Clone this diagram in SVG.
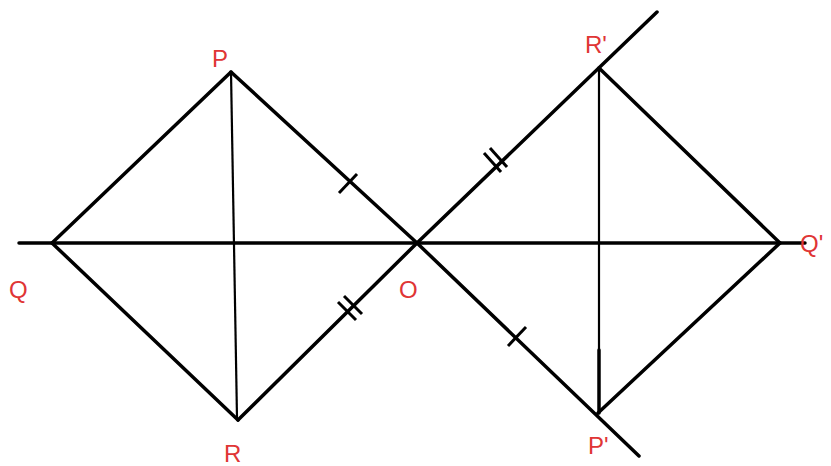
<svg xmlns="http://www.w3.org/2000/svg" width="831" height="466" viewBox="0 0 831 466">
<style>
.ln{stroke:#000;stroke-width:3.5;fill:none;stroke-linecap:round}
.thin{stroke:#000;stroke-width:2.2;fill:none}
.tk{stroke:#000;stroke-width:3;fill:none}
.lb{font-family:"Liberation Sans",Arial,sans-serif;font-size:24px;fill:#e03535}
</style>
<rect width="831" height="466" fill="#fff"/>
<g id="connectors">
<line class="ln" x1="19" y1="243" x2="805" y2="243"/>
<line class="ln" x1="52" y1="243" x2="231" y2="72"/>
<line class="ln" x1="52" y1="243" x2="238" y2="420"/>
<line class="ln" x1="231" y1="72" x2="417" y2="243"/>
<line class="ln" x1="238" y1="420" x2="417" y2="243"/>
<line class="thin" x1="231" y1="72" x2="237" y2="418"/>
<line class="ln" x1="417" y1="243" x2="657" y2="12"/>
<line class="ln" x1="417" y1="243" x2="639" y2="456"/>
<line class="ln" x1="599" y1="68" x2="780" y2="243"/>
<line class="ln" x1="598" y1="413" x2="780" y2="243"/>
<line class="thin" x1="599" y1="68" x2="599" y2="350"/>
<line class="ln" x1="599" y1="350" x2="599" y2="413"/>
<line class="tk" x1="339" y1="193" x2="357" y2="174"/>
<line class="tk" x1="338" y1="302" x2="356" y2="320"/>
<line class="tk" x1="344" y1="296" x2="362" y2="314"/>
<line class="tk" x1="484" y1="153" x2="501" y2="172"/>
<line class="tk" x1="490" y1="148" x2="507" y2="167"/>
<line class="tk" x1="508" y1="346" x2="526" y2="327"/>
</g>
<g id="P"><text class="lb" x="212" y="67">P</text></g>
<g id="Q"><text class="lb" x="9" y="298">Q</text></g>
<g id="R"><text class="lb" x="224" y="462">R</text></g>
<g id="O"><text class="lb" x="399" y="298">O</text></g>
<g id="Rp"><text class="lb" x="585" y="53">R'</text></g>
<g id="Pp"><text class="lb" x="588" y="454">P'</text></g>
<g id="Qp"><text class="lb" x="800" y="252">Q'</text></g>
</svg>
